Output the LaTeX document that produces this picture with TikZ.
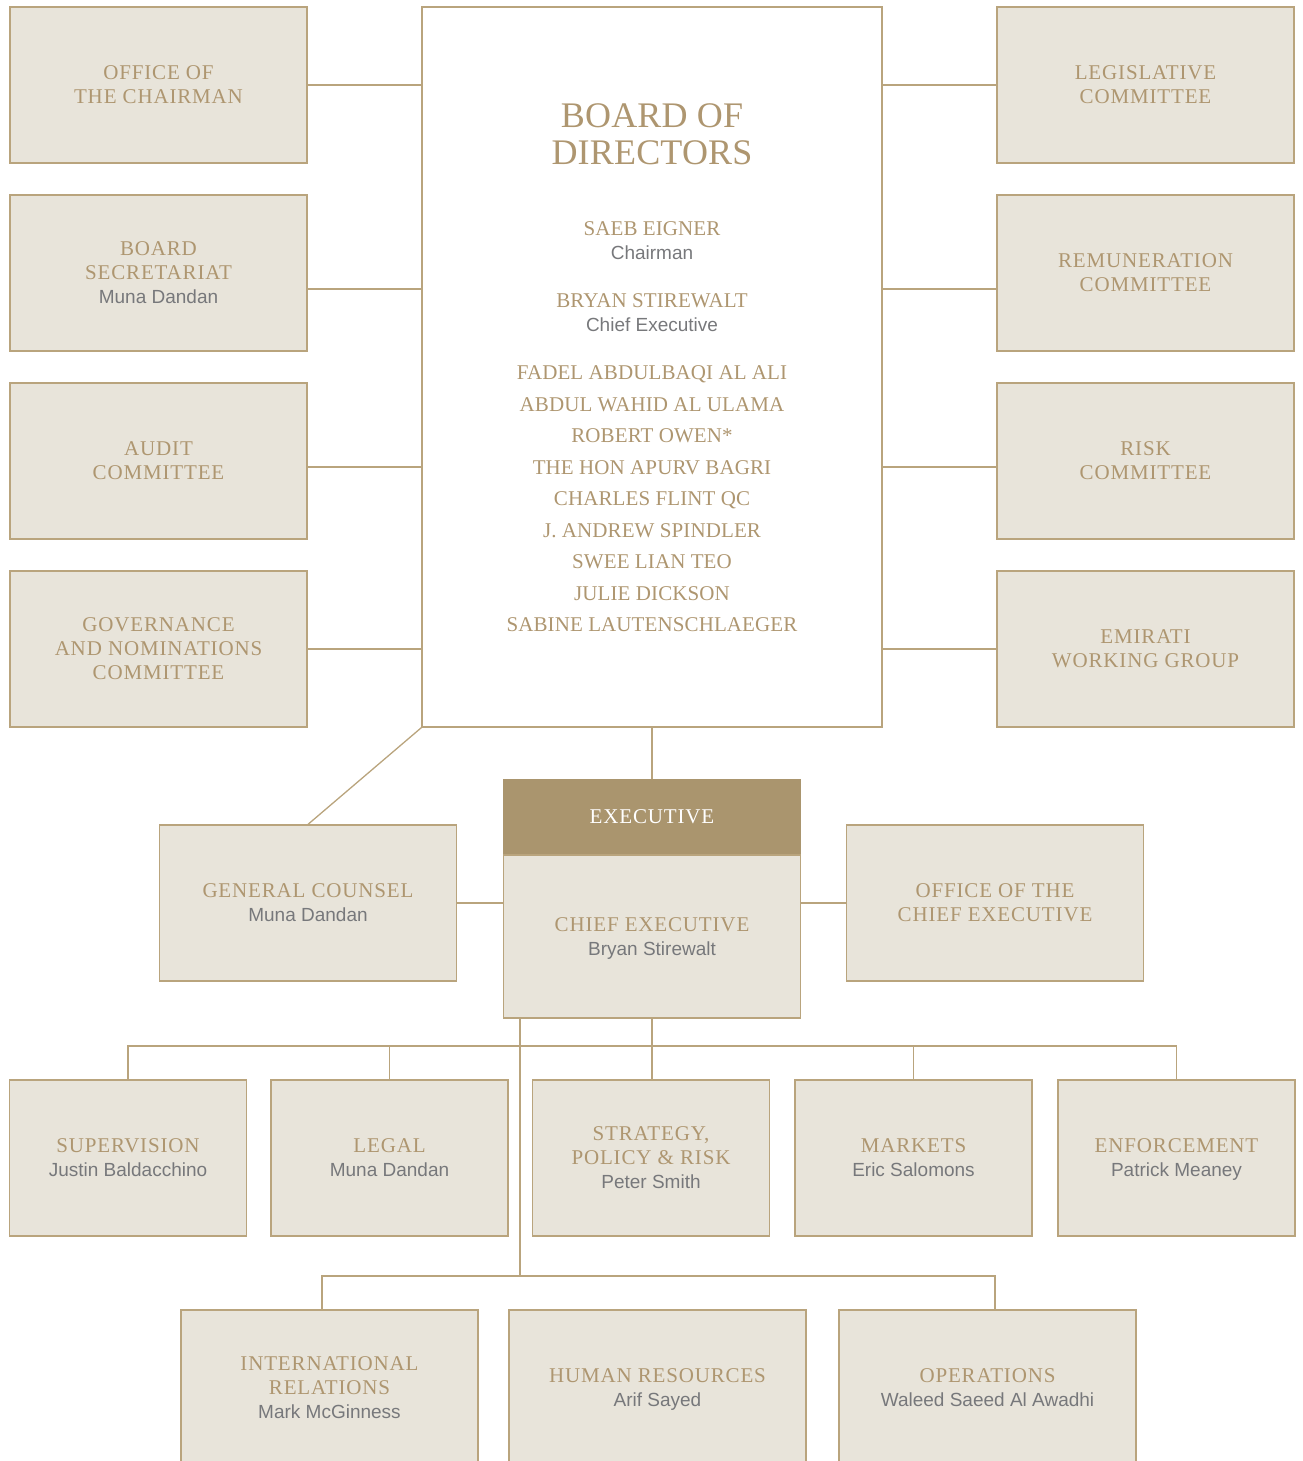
\documentclass[tikz,border=0pt]{standalone}
\usepackage{fontspec}
\newfontfamily\trajan[LetterSpace=4]{Liberation Serif}
\newfontfamily\trajanlist[LetterSpace=0.5]{Liberation Serif}
\newfontfamily\helv{Liberation Sans}
\definecolor{paper}{HTML}{E8E4DA}
\definecolor{rule}{HTML}{B9A47D}
\definecolor{goldtext}{HTML}{AE9670}
\definecolor{headgold}{HTML}{AA956E}
\definecolor{namegray}{HTML}{77787B}
\newcommand{\who}[1]{{\helv\fontsize{19}{24}\selectfont\color{namegray}#1}}

\begin{document}
\begin{tikzpicture}[x=1pt, y=-1pt,
  unit/.style={draw=rule, fill=paper, line width=1.3pt, minimum width=297pt, minimum height=156pt,
    inner sep=0pt, align=center, text=goldtext, text depth=0pt, font=\trajan\fontsize{21}{24}\selectfont},
  dept/.style={unit, minimum width=237pt},
  words/.style={inner sep=0pt, align=center, text=goldtext, text depth=0pt, font=\trajanlist\fontsize{21}{24}\selectfont},
  link/.style={draw=rule, line width=1.3pt}]
\useasboundingbox (0,0) rectangle (1302,1461);

% board and its committees
\node[draw=rule, line width=1.3pt, minimum width=460pt, minimum height=720pt, inner sep=0pt](board) at (652,367) {};
\node[words, font=\trajanlist\fontsize{36}{37}\selectfont](title) at (652,134.5) {BOARD OF\\DIRECTORS};
\node[words](chairman) at (652,241) {SAEB EIGNER\\\who{Chairman}};
\node[words](chief) at (652,313) {BRYAN STIREWALT\\\who{Chief Executive}};
\node[words, font=\trajanlist\fontsize{21}{31.5}\selectfont](members) at (652,499) {FADEL ABDULBAQI AL ALI\\ABDUL WAHID AL ULAMA\\ROBERT OWEN*\\THE HON APURV BAGRI\\CHARLES FLINT QC\\J. ANDREW SPINDLER\\SWEE LIAN TEO\\JULIE DICKSON\\SABINE LAUTENSCHLAEGER};

\node[unit](office) at (158.5,85) {OFFICE OF\\THE CHAIRMAN};
\node[unit](secretariat) at (158.5,273) {BOARD\\SECRETARIAT\\\who{Muna Dandan}};
\node[unit](audit) at (158.5,461) {AUDIT\\COMMITTEE};
\node[unit](governance) at (158.5,649) {GOVERNANCE\\AND NOMINATIONS\\COMMITTEE};

\node[unit](legislative) at (1145.5,85) {LEGISLATIVE\\COMMITTEE};
\node[unit](remuneration) at (1145.5,273) {REMUNERATION\\COMMITTEE};
\node[unit](risk) at (1145.5,461) {RISK\\COMMITTEE};
\node[unit](emirati) at (1145.5,649) {EMIRATI\\WORKING GROUP};

\draw[link] (office.east) -- (office.east -| board.west);
\draw[link] ([yshift=-16pt]secretariat.east) -- ([yshift=-16pt]secretariat.east -| board.west);
\draw[link] ([yshift=-6pt]audit.east) -- ([yshift=-6pt]audit.east -| board.west);
\draw[link] (governance.east) -- (governance.east -| board.west);
\draw[link] (legislative.west) -- (legislative.west -| board.east);
\draw[link] ([yshift=-16pt]remuneration.west) -- ([yshift=-16pt]remuneration.west -| board.east);
\draw[link] ([yshift=-6pt]risk.west) -- ([yshift=-6pt]risk.west -| board.east);
\draw[link] (emirati.west) -- (emirati.west -| board.east);

% executive
\node[fill=headgold, minimum width=298.3pt, minimum height=76pt, inner sep=0pt, text=white,
  font=\trajan\fontsize{21}{24}\selectfont, text depth=0pt](executive) at (652,817) {EXECUTIVE};
\node[unit, minimum width=297pt, minimum height=163pt](ce) at (652,936.5) {CHIEF EXECUTIVE\\\who{Bryan Stirewalt}};
\node[unit](counsel) at (308,903) {GENERAL COUNSEL\\\who{Muna Dandan}};
\node[unit](officece) at (995,903) {OFFICE OF THE\\CHIEF EXECUTIVE};

\draw[link] (board.south) -- (executive.north);
\draw[link] (board.south west) -- (counsel.north);
\draw[link] (counsel.east) -- (counsel.east -| ce.west);
\draw[link] (officece.west) -- (officece.west -| ce.east);

% departments
\node[dept](supervision) at (128,1158) {SUPERVISION\\\who{Justin Baldacchino}};
\node[dept](legal) at (389.5,1158) {LEGAL\\\who{Muna Dandan}};
\node[dept](strategy) at (651,1158) {STRATEGY,\\POLICY \& RISK\\\who{Peter Smith}};
\node[dept](markets) at (913.5,1158) {MARKETS\\\who{Eric Salomons}};
\node[dept](enforcement) at (1176.5,1158) {ENFORCEMENT\\\who{Patrick Meaney}};

\coordinate (bus3) at (652,1046);
\draw[link] (ce.south -| bus3) -- (strategy.north -| bus3);
\draw[link] (supervision.north) |- (bus3) -| (enforcement.north);
\draw[link] (legal.north) -- (legal.north |- bus3);
\draw[link] (markets.north) -- (markets.north |- bus3);

\node[unit](international) at (329.5,1388) {INTERNATIONAL\\RELATIONS\\\who{Mark McGinness}};
\node[unit](hr) at (657.5,1388) {HUMAN RESOURCES\\\who{Arif Sayed}};
\node[unit](operations) at (987.5,1388) {OPERATIONS\\\who{Waleed Saeed Al Awadhi}};

\coordinate (bus4) at (520,1276);
\draw[link] (ce.south -| bus4) -- (bus4);
\draw[link] ([xshift=-7.5pt]international.north) |- (bus4) -| ([xshift=7.5pt]operations.north);
\end{tikzpicture}
\end{document}
